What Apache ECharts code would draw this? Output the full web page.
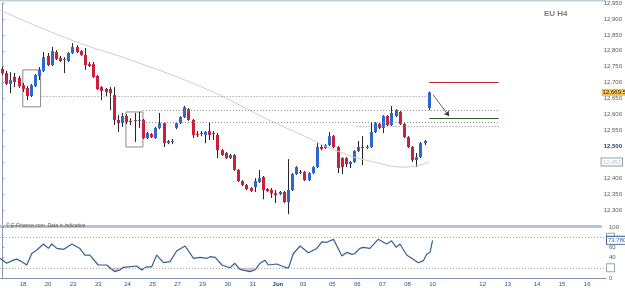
<!DOCTYPE html>
<html lang="en">
<head>
<meta charset="UTF-8">
<title>EU H4</title>
<script src="https://cdn.jsdelivr.net/npm/echarts@6/dist/echarts.min.js"></script>
<style>html,body{margin:0;padding:0;background:#fff;}</style>
</head>
<body>
<div id="chart" style="width:625px;height:288px;"></div>
<script>
// H4 candles
var opens  = [12743,12730,12696,12718,12715,12692,12683,12658,12689,12721,12737,12784,12755,12796,12777,12771,12768,12793,12812,12799,
              12787,12758,12758,12721,12686,12680,12680,12661,12583,12573,12595,12580,12583,12580,12583,12526,12539,12526,12558,12573,
              12510,12516,12558,12573,12592,12617,12583,12539,12541,12536,12548,12541,12536,12488,12479,12463,12473,12426,12391,12379,
              12369,12372,12388,12404,12366,12363,12353,12350,12357,12325,12363,12413,12420,12419,12394,12416,12435,12498,12495,12504,
              12532,12498,12463,12463,12444,12451,12485,12498,12497,12498,12545,12570,12558,12595,12567,12595,12608,12570,12529,12498,
              12457,12466,12510,12620];
var closes = [12730,12696,12708,12702,12689,12680,12658,12692,12724,12740,12780,12755,12799,12774,12768,12774,12793,12812,12796,12787,
              12755,12752,12718,12680,12674,12671,12667,12583,12573,12595,12576,12577,12580,12583,12526,12542,12529,12558,12573,12510,
              12517,12517,12573,12592,12623,12583,12536,12538,12542,12545,12536,12542,12488,12473,12463,12473,12426,12391,12379,12366,
              12360,12391,12400,12363,12360,12353,12347,12357,12325,12363,12413,12435,12419,12394,12416,12435,12498,12492,12504,12532,
              12498,12432,12435,12444,12451,12485,12498,12497,12498,12545,12573,12558,12595,12567,12605,12614,12570,12529,12498,12457,
              12466,12510,12517,12669.5];
var lows   = [12724,12692,12667,12686,12683,12671,12645,12655,12686,12708,12733,12752,12752,12771,12765,12730,12765,12790,12793,12784,
              12740,12749,12715,12677,12645,12658,12614,12567,12545,12561,12570,12567,12514,12558,12523,12523,12526,12523,12554,12498,
              12507,12507,12554,12570,12589,12580,12526,12529,12532,12510,12520,12520,12463,12470,12460,12460,12423,12388,12375,12363,
              12357,12357,12385,12334,12357,12338,12322,12347,12322,12287,12360,12410,12413,12391,12391,12413,12432,12488,12492,12501,
              12495,12416,12413,12435,12432,12448,12482,12441,12492,12495,12542,12554,12542,12564,12564,12592,12567,12526,12495,12451,
              12435,12463,12504,12614];
var highs  = [12749,12737,12733,12730,12721,12699,12689,12696,12727,12749,12796,12793,12812,12802,12784,12780,12796,12824,12818,12802,
              12809,12765,12765,12724,12689,12683,12686,12686,12598,12605,12601,12589,12605,12608,12586,12545,12542,12561,12605,12576,
              12520,12523,12576,12595,12627,12620,12586,12548,12548,12548,12576,12548,12542,12492,12482,12476,12476,12429,12394,12382,
              12372,12400,12426,12407,12369,12369,12363,12360,12360,12460,12416,12438,12426,12423,12419,12438,12510,12504,12507,12545,
              12536,12501,12466,12466,12454,12488,12517,12532,12504,12576,12576,12573,12598,12598,12627,12617,12611,12573,12532,12501,
              12479,12514,12520,12672];

// long moving average (candle position, price)
var maPos = [-0.5, 16.7, 33.0, 49.8, 63.4, 71.3, 81.6, 89.7, 97.6, 103.1];
var maVal = [12928, 12834, 12762, 12677, 12589, 12542, 12482, 12451, 12435, 12451];

// oscillator in the lower panel (candle position, value)
var rsiPos = [-0.5,1.1,2.7,3.5,4.7,5.9,7.1,8.3,9.9,11.1,11.9,13.1,14.7,16.7,18.6,19.8,21.0,23.0,25.0,27.0,
              28.2,29.0,30.2,32.2,33.4,34.6,35.8,37.0,38.6,40.2,41.8,43.8,45.8,47.4,49.0,49.8,51.0,52.6,54.5,55.7,
              56.9,59.3,60.5,61.7,62.9,63.7,65.7,66.9,68.5,69.7,71.3,73.3,75.3,76.5,77.7,79.3,81.3,82.5,83.7,84.4,
              85.6,86.4,88.0,90.0,92.0,93.2,94.3,95.2,96.8,98.0,99.6,100.8,101.6,102.4,103];
var rsiVal = [38.6,28.8,35,37,32,25.5,48,55,66.7,58,66.7,58,56,66.7,58,45,45,25.5,25.5,12.4,
              15.7,21,22,23.5,15.7,22,22,45,30,32,53.5,62.7,38.6,40.6,38.6,41.8,40.6,25.5,20.2,28.8,
              17,12.4,15.7,28.8,35,25.5,27.5,23.5,19,48,62.7,49.6,58,71,70,75.8,43,50.3,46.4,48,
              58,60,58,75.8,66.7,73,60,66.7,45,38.6,30,34,46.4,50.3,73.779];
var rsiLevels = [80, 20];
var oversold = 20;

// horizontal levels drawn on the price panel
var levelPrice = [12658, 12614, 12576, 12564];
var levelFrom  = [9.3, 34, 34, 85.6];
var levelTo    = [103, 119.9, 119.9, 119.9];
var targetHigh = 12702, targetLow = 12589, targetFrom = 103.1, targetTo = 119.9;
var arrowFrom = [104.1, 12661], arrowTo = [107.9, 12595];
var boxes = [[[5.0, 12740], [9.3, 12624]], [[29.9, 12608], [34.0, 12498]]];

// x axis day labels (one per slot, '' = no label)
var dayLabels = ['18','20','22','23','24','25','27','29','30','31','Jun','03','05','06','07','08','10','','12','13','14','15','16'];
var slotCount = 145;
var labelStep = 6.125;

var categories = [];
for (var i = 0; i < slotCount; i++) categories.push('');
dayLabels.forEach(function (d, k) { categories[Math.round(5 + k * labelStep)] = d; });

var candleData = opens.map(function (o, i) { return [i, o, closes[i], lows[i], highs[i]]; });
var maData = maPos.map(function (p, i) { return [p, maVal[i]]; });
var rsiData = rsiPos.map(function (p, i) { return [p, rsiVal[i]]; });
// segments of the oscillator, used for the shading under the oversold level
var rsiSegs = rsiPos.slice(1).map(function (p, i) { return [rsiPos[i], rsiVal[i], p, rsiVal[i + 1]]; });

var fmt = function (v) { return v.toLocaleString('en-US'); };
var blue = '#2d68d2', red = '#cf1d3c';

function renderCandle(params, api) {
    var x = api.value(0), o = api.value(1), c = api.value(2), l = api.value(3), h = api.value(4);
    var pO = api.coord([x, o]), pC = api.coord([x, c]);
    var pL = api.coord([x, l]), pH = api.coord([x, h]);
    var cx = Math.round(pO[0]) + 0.5;
    var top = Math.min(pO[1], pC[1]);
    var hgt = Math.max(Math.abs(pO[1] - pC[1]), 1);
    return {
        type: 'group',
        children: [
            { type: 'line', shape: { x1: cx, y1: pH[1], x2: cx, y2: pL[1] }, style: { stroke: '#262626', lineWidth: 1 } },
            { type: 'rect', shape: { x: cx - 1.5, y: top, width: 3, height: hgt }, style: { fill: c >= o ? blue : red } }
        ]
    };
}

function renderShade(params, api) {
    var x0 = api.value(0), v0 = api.value(1), x1 = api.value(2), v1 = api.value(3);
    if (v0 >= oversold && v1 >= oversold) return null;
    var pts = [
        api.coord([x0, Math.min(v0, oversold)]),
        api.coord([x1, Math.min(v1, oversold)]),
        api.coord([x1, oversold]),
        api.coord([x0, oversold])
    ];
    return { type: 'polygon', shape: { points: pts }, style: { fill: '#e6c2d2' } };
}

var dots = { type: [1, 2], color: '#8a8a8a', width: 1 };
var levelLines = levelPrice.map(function (p, i) {
    return [{ coord: [levelFrom[i], p], lineStyle: dots }, { coord: [levelTo[i], p] }];
});
levelLines.push([{ coord: [targetFrom, targetHigh], lineStyle: { type: 'solid', color: '#b3262a', width: 1.2 } }, { coord: [targetTo, targetHigh] }]);
levelLines.push([{ coord: [targetFrom, targetLow], lineStyle: { type: 'solid', color: '#2f5a2f', width: 1.2 } }, { coord: [targetTo, targetLow] }]);
levelLines.push([{ coord: arrowFrom, symbol: 'none', lineStyle: { type: 'solid', color: '#333', width: 0.8 } }, { coord: arrowTo, symbol: 'arrow', symbolSize: 5 }]);
levelLines.push({
    yAxis: closes[closes.length - 1], lineStyle: { color: 'transparent', width: 0 },
    label: { show: true, position: 'end', distance: 1, formatter: function (p) { return fmt(p.value); }, backgroundColor: '#efc24c', color: '#333', padding: [1, 1, 0, 1], fontSize: 6 }
});
levelLines.push({
    yAxis: maVal[maVal.length - 1], lineStyle: { color: 'transparent', width: 0 },
    label: { show: true, position: 'end', distance: 1, formatter: function (p) { return fmt(p.value); }, backgroundColor: '#fff', borderColor: '#8d9bab', borderWidth: 1, color: '#c2c2c2', padding: [1, 1, 0, 1], fontSize: 6 }
});

var rsiMarks = rsiLevels.map(function (v) {
    return {
        yAxis: v, lineStyle: { type: [1, 2], color: '#a8a8a8', width: 1 },
        label: { show: true, position: 'end', distance: 1, formatter: '   ', backgroundColor: '#fff', borderColor: '#9aa6b4', borderWidth: 1, padding: [1, 1, 0, 1], fontSize: 6 }
    };
});
rsiMarks.push({
    yAxis: rsiVal[rsiVal.length - 1], lineStyle: { color: 'transparent', width: 0 },
    label: { show: true, position: 'end', distance: 1, formatter: function (p) { return p.value.toFixed(3); }, backgroundColor: '#fff', borderColor: '#3b6392', borderWidth: 1, color: '#3b6392', padding: [1, 1, 0, 1], fontSize: 6 }
});

var chart = echarts.init(document.getElementById('chart'));
var option = {
    animation: false,
    backgroundColor: '#fff',
    textStyle: { fontFamily: 'Liberation Sans, Arial, sans-serif' },
    title: [
        { text: 'EU H4', left: 539, top: 5, textStyle: { fontSize: 8, color: '#7d7d7d', fontWeight: 'bold' } },
        { text: '© E-Finance.com. Data is indicative', left: 1, top: 218, textStyle: { fontSize: 5, color: '#555', fontStyle: 'italic', fontWeight: 'normal' } }
    ],
    graphic: [
        { type: 'line', shape: { x1: 0, y1: 0.5, x2: 606, y2: 0.5 }, style: { stroke: '#c3cedb', lineWidth: 2 } }
    ],
    grid: [
        { left: 0, right: 19, top: 3, height: 223 },
        { left: 0, right: 19, top: 227, height: 51 }
    ],
    xAxis: [
        {
            type: 'value', gridIndex: 0, min: -0.5, max: slotCount - 0.5,
            axisLine: { show: true, onZero: false, lineStyle: { color: '#b5c4d8', width: 3 } },
            axisTick: { show: false }, axisLabel: { show: false }, splitLine: { show: false }
        },
        {
            type: 'category', gridIndex: 1, data: categories, boundaryGap: true,
            axisLine: { lineStyle: { color: '#8394ad' } },
            axisTick: { interval: function (i, v) { return v !== ''; }, length: 2, lineStyle: { color: '#8394ad' } },
            axisLabel: {
                interval: function (i, v) { return v !== ''; }, fontSize: 6, color: '#2f4f86', margin: 3,
                formatter: function (v) { return v === 'Jun' ? '{b|Jun}' : v; },
                rich: { b: { fontSize: 6, fontWeight: 'bold', color: '#1d3d78' } }
            },
            splitLine: { show: false }
        },
        { type: 'value', gridIndex: 1, min: -0.5, max: slotCount - 0.5, show: false }
    ],
    yAxis: [
        {
            type: 'value', gridIndex: 0, position: 'right', min: 12250, max: 12950, interval: 50,
            axisLine: { show: true, lineStyle: { color: '#8797ad' } },
            axisTick: { show: true, length: 2, lineStyle: { color: '#8797ad' } },
            axisLabel: {
                fontSize: 6, color: '#5a5a5a', margin: 3,
                formatter: function (v) { return v < 12300 ? '' : (v === 12500 ? '{b|12,500}' : fmt(v)); },
                rich: { b: { fontSize: 6, fontWeight: 'bold', color: '#1d3d78' } }
            },
            splitLine: { show: false }
        },
        {
            type: 'value', gridIndex: 1, position: 'right', min: 0, max: 100, interval: 20,
            axisLine: { show: true, lineStyle: { color: '#8797ad' } },
            axisTick: { show: true, length: 2, lineStyle: { color: '#8797ad' } },
            axisLabel: { fontSize: 6, color: '#5a5a5a', margin: 3, formatter: function (v) { return (v === 20 || v === 80) ? '' : v; } },
            splitLine: { show: false }
        }
    ],
    series: [
        {
            type: 'line', xAxisIndex: 0, yAxisIndex: 0, data: maData, smooth: true, symbol: 'none', silent: true,
            lineStyle: { color: '#cdcdcd', width: 1 },
            markLine: { symbol: ['none', 'none'], silent: true, label: { show: false }, data: levelLines },
            markArea: {
                silent: true,
                itemStyle: { color: 'rgba(0,0,0,0)', borderColor: '#8a8a8a', borderWidth: 1 },
                data: boxes.map(function (b) { return [{ coord: b[0] }, { coord: b[1] }]; })
            }
        },
        {
            type: 'custom', xAxisIndex: 0, yAxisIndex: 0, renderItem: renderCandle,
            encode: { x: 0, y: [1, 2, 3, 4] }, data: candleData, z: 3
        },
        {
            type: 'custom', xAxisIndex: 2, yAxisIndex: 1, renderItem: renderShade, silent: true,
            encode: { x: [0, 2], y: [1, 3] }, data: rsiSegs, z: 1
        },
        {
            type: 'line', xAxisIndex: 2, yAxisIndex: 1, data: rsiData, symbol: 'none', silent: true, z: 3,
            lineStyle: { color: '#34608f', width: 1.2 },
            markLine: { symbol: ['none', 'none'], silent: true, label: { show: false }, data: rsiMarks }
        }
    ]
};
chart.setOption(option);
window.addEventListener('resize', function () { chart.resize(); });
</script>
</body>
</html>
